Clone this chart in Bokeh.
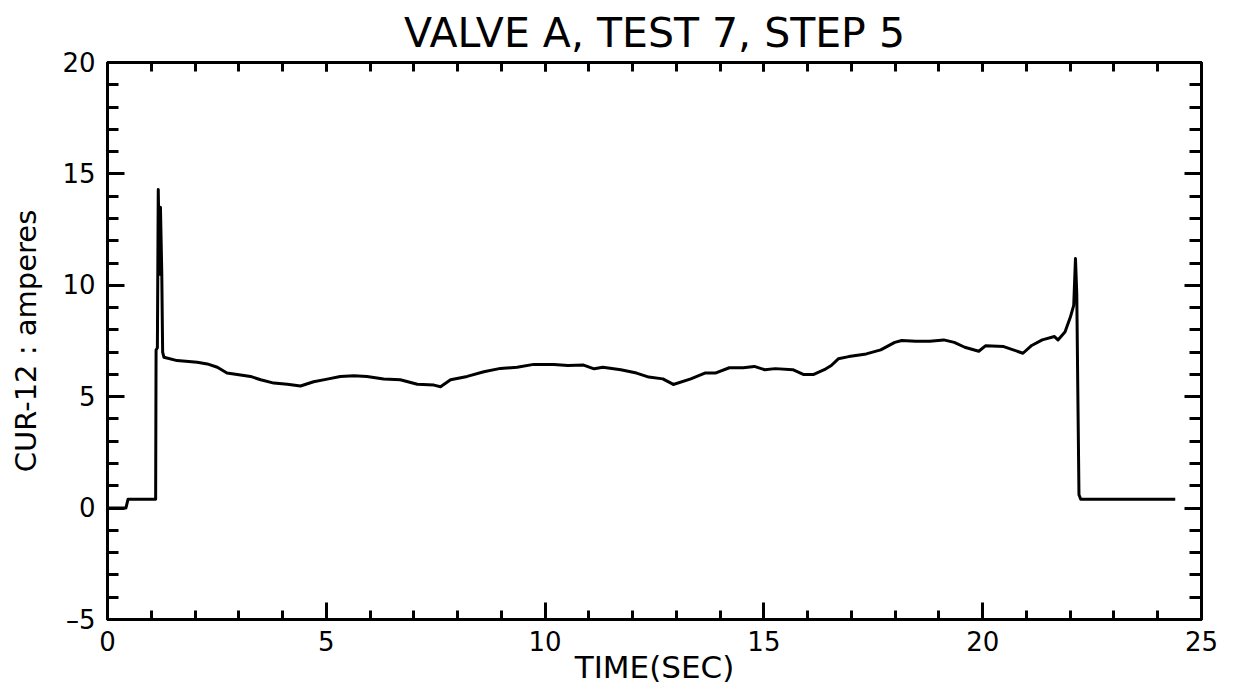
from bokeh.plotting import figure
from bokeh.models import Range1d, LinearAxis, SingleIntervalTicker, Title
from bokeh.embed import file_html
from bokeh.resources import INLINE

title_text = "VALVE A, TEST 7, STEP 5"
x_label = "TIME(SEC)"
y_label = "CUR-12 : amperes"

time_sec = [0.0, 0.42, 0.47, 1.10, 1.11, 1.14, 1.16, 1.19, 1.21, 1.24, 1.26, 1.29, 1.59, 2.05,
            2.28, 2.51, 2.73, 3.04, 3.27, 3.50, 3.80, 4.11, 4.41, 4.71, 5.02, 5.32, 5.63, 5.93,
            6.31, 6.69, 7.08, 7.46, 7.61, 7.84, 8.22, 8.60, 8.98, 9.36, 9.74, 10.20, 10.52,
            10.88, 11.12, 11.32, 11.73, 12.09, 12.37, 12.69, 12.93, 13.33, 13.65, 13.89, 14.21,
            14.53, 14.78, 15.02, 15.26, 15.66, 15.90, 16.14, 16.38, 16.54, 16.70, 16.94, 17.34,
            17.67, 17.99, 18.15, 18.47, 18.79, 19.11, 19.35, 19.59, 19.91, 20.07, 20.48, 20.92,
            21.12, 21.36, 21.64, 21.72, 21.88, 22.00, 22.08, 22.12, 22.15, 22.17, 22.20, 22.24,
            24.40]
current_a = [0.0, 0.0, 0.4, 0.4, 7.1, 7.2, 14.3, 10.5, 13.5, 10.6, 7.0, 6.77, 6.62, 6.55,
             6.47, 6.32, 6.06, 5.97, 5.91, 5.76, 5.61, 5.56, 5.48, 5.67, 5.79, 5.91, 5.94, 5.91,
             5.79, 5.76, 5.56, 5.52, 5.45, 5.76, 5.91, 6.12, 6.27, 6.32, 6.45, 6.45, 6.40,
             6.42, 6.25, 6.32, 6.21, 6.06, 5.88, 5.80, 5.55, 5.80, 6.06, 6.06, 6.30,
             6.30, 6.36, 6.21, 6.26, 6.21, 6.00, 6.00, 6.21, 6.40, 6.70, 6.80, 6.92,
             7.10, 7.44, 7.52, 7.49, 7.49, 7.55, 7.44, 7.22, 7.04, 7.29, 7.25, 6.95,
             7.30, 7.55, 7.70, 7.55, 7.90, 8.55, 9.1, 11.2, 9.6, 5.9, 0.6, 0.4,
             0.4]

x_ticks_major = 5
y_ticks_major = 5

FONT = "DejaVu Sans"

p = figure(width=1233, height=692, output_backend="svg", toolbar_location=None,
           x_range=Range1d(0, 25), y_range=Range1d(-5, 20),
           min_border_left=107, min_border_right=32, min_border_top=62, min_border_bottom=73,
           x_axis_location=None, y_axis_location=None)
p.grid.visible = False
p.outline_line_color = "black"
p.outline_line_width = 3
p.background_fill_color = "white"
p.border_fill_color = "white"


def make_axis(labels, major_len, minor_len, interval):
    ax = LinearAxis(ticker=SingleIntervalTicker(interval=interval, num_minor_ticks=5))
    ax.axis_line_color = "black"
    ax.axis_line_width = 3
    ax.major_tick_line_color = "black"
    ax.major_tick_line_width = 3
    ax.minor_tick_line_color = "black"
    ax.minor_tick_line_width = 3
    ax.major_tick_in = major_len
    ax.major_tick_out = 0
    ax.minor_tick_in = minor_len
    ax.minor_tick_out = 0
    if labels:
        ax.major_label_text_font = FONT
        ax.major_label_text_font_size = "26px"
        ax.major_label_text_color = "black"
    else:
        ax.major_label_text_color = None
        ax.major_label_text_font_size = "8px"
        ax.major_label_standoff = 0
    return ax


xt = make_axis(False, 9, 9, x_ticks_major)
p.add_layout(xt, "above")

p.add_layout(Title(text=title_text, align="center", text_font=FONT, text_font_size="41px",
                   text_font_style="normal", text_color="black", standoff=11), "above")

xb = make_axis(True, 17, 9, x_ticks_major)
xb.major_label_standoff = 11
xb.axis_label = x_label
xb.axis_label_text_font = FONT
xb.axis_label_text_font_size = "31px"
xb.axis_label_text_font_style = "normal"
xb.axis_label_text_color = "black"
xb.axis_label_standoff = -5
p.add_layout(xb, "below")

yl = make_axis(True, 17, 11, y_ticks_major)
yl.major_label_standoff = 12
yl.major_label_overrides = {-5: "\u20135"}
yl.axis_label = y_label
yl.axis_label_text_font = FONT
yl.axis_label_text_font_size = "29px"
yl.axis_label_text_font_style = "normal"
yl.axis_label_text_color = "black"
yl.axis_label_standoff = 16
p.add_layout(yl, "left")

yr = make_axis(False, 17, 12, y_ticks_major)
p.add_layout(yr, "right")

p.line(time_sec, current_a, line_color="black", line_width=3, line_join="round")

open("out.html", "w").write(file_html(p, INLINE))
